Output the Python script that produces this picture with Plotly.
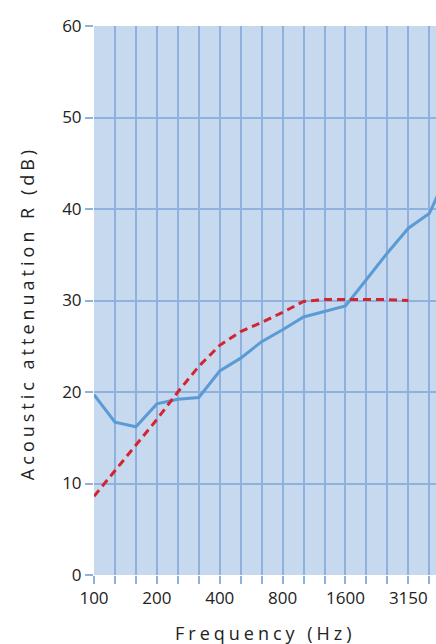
import plotly.graph_objects as go

# ---- data ----
freqs = ["100", "125", "160", "200", "250", "315", "400", "500", "630", "800",
         "1000", "1250", "1600", "2000", "2500", "3150", "4000", "5000"]
shown_labels = ["100", "200", "400", "800", "1600", "3150"]
measured = [19.7, 16.7, 16.2, 18.7, 19.2, 19.4, 22.3, 23.7, 25.5, 26.8,
            28.2, 28.8, 29.4, 32.3, 35.2, 37.9, 39.5, 44.5]
reference = [8.6, 11.4, 14.2, 17.0, 20.0, 22.8, 25.1, 26.6, 27.6, 28.7,
             29.9, 30.1, 30.1, 30.1, 30.1, 30.0]
y_ticks = [0, 10, 20, 30, 40, 50, 60]

pos = list(range(len(freqs)))
ticktext = [f if f in shown_labels else "" for f in freqs]

FONT = "Open Sans"
GRID = "#8fb1dd"

fig = go.Figure()
fig.add_trace(go.Scatter(x=pos[:len(measured)], y=measured, mode="lines",
                         line=dict(color="#5b9bd5", width=3), showlegend=False))
fig.add_trace(go.Scatter(x=pos[:len(reference)], y=reference, mode="lines",
                         line=dict(color="#d42430", width=3, dash="8px,5px"),
                         showlegend=False))

fig.update_layout(
    width=436, height=644,
    margin=dict(l=94, r=0, t=26, b=69),
    paper_bgcolor="white",
    plot_bgcolor="#c6d9ef",
    font=dict(family=FONT, size=17, color="#222222"),
    xaxis=dict(range=[0, 16.32], tickmode="array", tickvals=pos, ticktext=ticktext,
               showgrid=True, gridcolor=GRID, gridwidth=1.5,
               ticks="outside", ticklen=8, tickcolor=GRID, tickwidth=1.5,
               zeroline=False, showline=False, tickfont=dict(size=17)),
    yaxis=dict(range=[0, 60], tickmode="array", tickvals=y_ticks,
               showgrid=True, gridcolor=GRID, gridwidth=1.5,
               ticks="outside", ticklen=8, tickcolor=GRID, tickwidth=1.5,
               zeroline=False, showline=False, tickfont=dict(size=17)),
    annotations=[
        dict(text="Frequency (Hz)", xref="paper", yref="paper", x=0.5, y=0,
             xanchor="center", yanchor="middle", yshift=-58, showarrow=False,
             font=dict(size=18)),
        dict(text="Acoustic attenuation R (dB)", xref="paper", yref="paper",
             x=0, y=0.477, xanchor="center", yanchor="middle", xshift=-67,
             textangle=-90, showarrow=False, font=dict(size=18)),
    ],
)

post = """
document.body.style.margin = '0';
document.body.style.padding = '0';
var gd = document.getElementById('{plot_id}');
gd.querySelectorAll('.annotation-text').forEach(function(t){ t.style.letterSpacing = '4px'; });
"""
fig.write_html("out.html", post_script=post, config={"displayModeBar": False})
